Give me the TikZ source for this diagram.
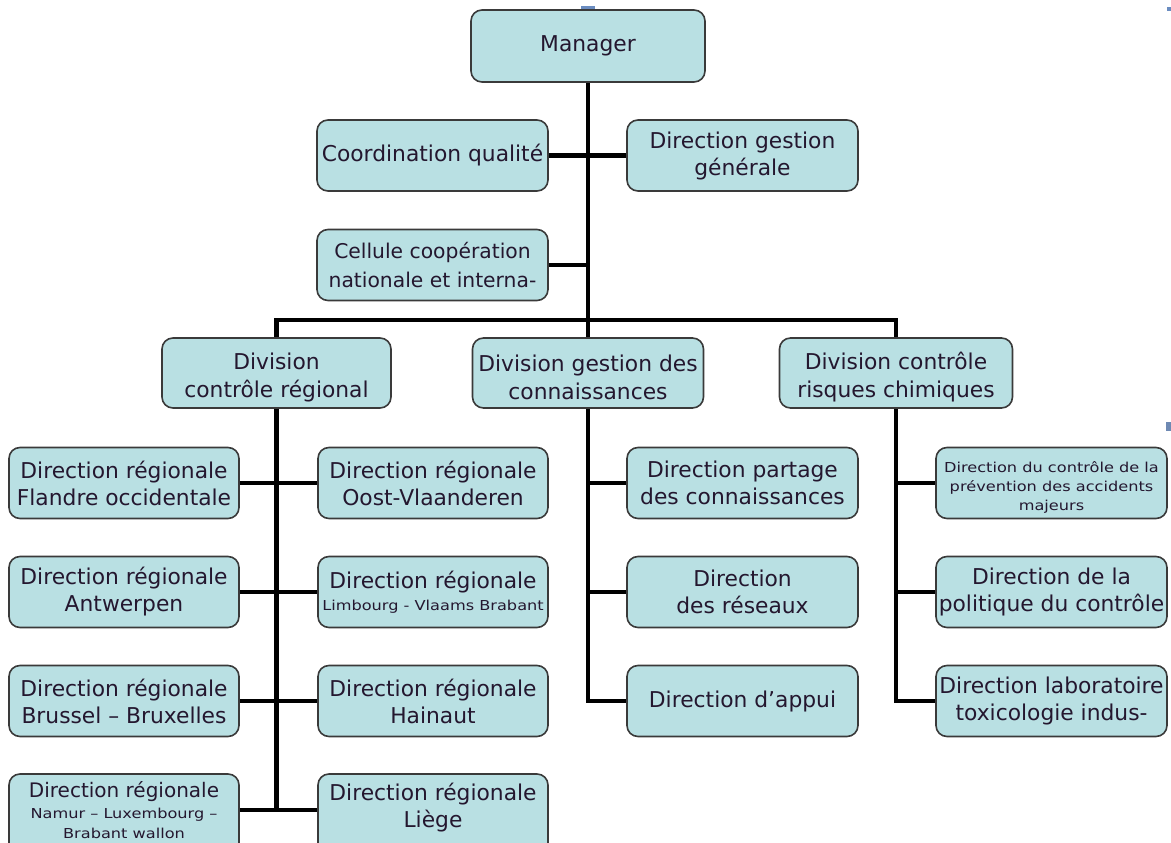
\documentclass[tikz,border=0pt]{standalone}
\usepackage{fontspec}
\setmainfont{DejaVu Sans}
\newfontfamily\smallwide[FakeStretch=1.18]{DejaVu Sans}
\definecolor{boxfill}{HTML}{B9E0E3}
\definecolor{boxline}{HTML}{3A3A3A}
\definecolor{txt}{HTML}{24172F}
\definecolor{tick}{HTML}{6A8CC0}
\tikzset{
  box/.style={draw=boxline, fill=boxfill, line width=1.6pt, rounded corners=11pt,
    minimum width=231pt, minimum height=71pt, inner sep=0pt, align=center,
    text=txt, font=\fontsize{21.8}{27}\selectfont},
  link/.style={line width=4.8pt, black},
  plain/.style={align=center, text=txt, inner sep=0pt},
}
\begin{document}
\begin{tikzpicture}[x=1pt,y=-1pt]
\useasboundingbox (0,0) rectangle (1171,843);
\clip (0,0) rectangle (1171,843);
% artifacts
\fill[tick] (581,6) rectangle (595,10);
\fill[tick] (1167,7) rectangle (1171,11);
\fill[tick!80!gray] (1166,422) rectangle (1171,431);
% nodes
\node[box, minimum width=234pt, minimum height=72pt] (mgr) at (588,46) {Manager};
\node[box] (cq) at (432.5,155.5) {Coordination qualité};
\node[box] (dgg) at (742.5,155.5) {Direction gestion\\générale};
\node[box, font=\fontsize{20.3}{29}\selectfont] (ccn) at (432.5,265) {Cellule coopération\\nationale et interna-};
\node[box, minimum width=229pt, minimum height=70pt] (dcr) at (276.5,373) {};
\node[plain, font=\fontsize{21.8}{28}\selectfont] (dcrt) at (276.5,377) {Division\\contrôle régional};
\node[box, minimum width=231pt, minimum height=70pt] (dgc) at (588,373) {};
\node[plain, font=\fontsize{21.8}{28}\selectfont] (dgct) at (588,377) {Division gestion des\\connaissances};
\node[box, minimum width=233pt, minimum height=70pt] (dcc) at (896,373) {};
\node[plain, font=\fontsize{21.8}{28}\selectfont] (dcct) at (896,377) {Division contrôle\\risques chimiques};
% left division
\node[box, minimum width=230pt] (l1) at (124,483) {Direction régionale\\Flandre occidentale};
\node[box, minimum width=230pt] (r1) at (433,483) {Direction régionale\\Oost-Vlaanderen};
\node[box, minimum width=230pt] (l2) at (124,592) {Direction régionale\\Antwerpen};
\node[box, minimum width=230pt] (r2) at (433,592) {Direction régionale\\[-5pt]{\smallwide\fontsize{13.7}{14}\selectfont Limbourg - Vlaams Brabant}};
\node[box, minimum width=230pt] (r3) at (433,701) {Direction régionale\\Hainaut};
\node[box, minimum width=230pt] (l3) at (124,701) {Direction régionale\\Brussel – Bruxelles};
\node[box, minimum width=230pt, minimum height=80pt] (l4) at (124,814) {};
\node[plain, font=\smallwide\fontsize{13.7}{20}\selectfont] (l4t) at (124,810) {{\rmfamily\fontsize{20}{20}\selectfont Direction régionale}\\[1pt]Namur – Luxembourg –\\Brabant wallon};
\node[box, minimum width=230pt, minimum height=80pt] (r4) at (433,814) {};
\node[plain, font=\fontsize{21.8}{27}\selectfont] (r4t) at (433,808) {Direction régionale\\Liège};
% middle division
\node[box] (m1) at (742.5,483) {Direction partage\\des connaissances};
\node[box] (m2) at (742.5,592) {Direction\\des réseaux};
\node[box] (m3) at (742.5,701) {Direction d’appui};
% right division
\node[box, minimum height=71pt] (c1) at (1051.5,483) {};
\node[plain, font=\smallwide\fontsize{13.7}{19}\selectfont] (c1t) at (1051.5,487) {Direction du contrôle de la\\prévention des accidents\\majeurs};
\node[box] (c2) at (1051.5,592) {Direction de la\\politique du contrôle};
\node[box] (c3) at (1051.5,701) {Direction laboratoire\\toxicologie indus-};
% connectors
\coordinate (bus) at (588,320);
\draw[link] (mgr.south) -- (dgc.north);
\draw[link] (cq.east) -- (dgg.west);
\draw[link] (ccn.east) -- (ccn.east -| mgr.south);
\draw[link] (dcr.north) |- (bus) -| (dcc.north);
\draw[link] (dcr.south) -- (dcr.south |- l4t.east);
\draw[link] (l1.east) -- (r1.west);
\draw[link] (l2.east) -- (r2.west);
\draw[link] (l3.east) -- (r3.west);
\draw[link] (l4t.east -| l4.east) -- (l4t.east -| r4.west);
\draw[link] (dgc.south) |- (m3.west);
\draw[link] (m1.west) -- (m1.west -| dgc.south);
\draw[link] (m2.west) -- (m2.west -| dgc.south);
\draw[link] (dcc.south) |- (c3.west);
\draw[link] (c1.west) -- (c1.west -| dcc.south);
\draw[link] (c2.west) -- (c2.west -| dcc.south);
\end{tikzpicture}
\end{document}
